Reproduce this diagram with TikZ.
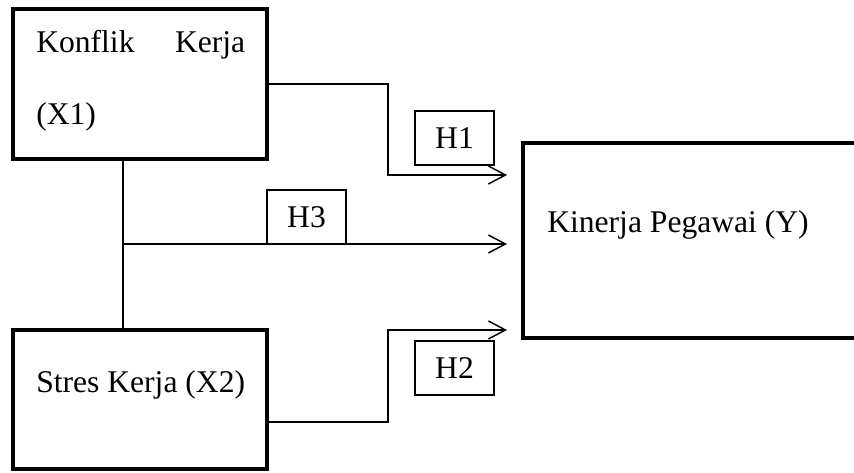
\documentclass[tikz,border=0pt]{standalone}
\usepackage{fontspec}
\setmainfont{Liberation Serif}
\usetikzlibrary{arrows.meta}
\tikzset{
	varbox/.style={draw,line width=3pt,inner sep=0,outer sep=0,anchor=north west},
	hbox/.style={draw,line width=.8pt,inner sep=0,outer sep=0,anchor=north west,
		minimum width=59.25pt,minimum height=40.5pt},
	link/.style={line width=1.1pt},
	linkarrow/.style={link,-{Straight Barb[length=12.75pt,width=13.5pt,line width=1.1pt]}}
}
\begin{document}
\begin{tikzpicture}[x=.75pt,y=-.75pt,font=\fontsize{23.7}{28}\selectfont]
	\clip (0,0) rectangle (854,473);
	
	% variable boxes
	\node[varbox,minimum width=190.5pt,minimum height=112.5pt] (x1) at (13,9) {};
	\node[varbox,minimum width=190.5pt,minimum height=104.25pt] (x2) at (13,330) {};
	\node[varbox,minimum width=262pt,minimum height=146.25pt] (y) at (523,143) {};
	
	\node[anchor=base west,inner sep=0] (x1a) at (36,53) {\makebox[156.75pt][s]{Konflik Kerja}};
	\node[anchor=base west,inner sep=0] (x1b) at (36,125) {(X1)};
	\node[anchor=base west,inner sep=0] (x2t) at (36,393) {Stres Kerja (X2)};
	\node[anchor=base west,inner sep=0] (yt) at (547,233) {Kinerja Pegawai (Y)};
	
	% hypotheses
	\foreach \n/\x/\y in {1/415/111,3/267/190,2/415/341}
		\node[hbox] (h\n) at (\x,\y) {H\n};
	
	\coordinate (t1) at (507,175);
	\coordinate (t3) at (507,244);
	\coordinate (t2) at (507,330);
	\coordinate (j) at (123,244);
	
	\draw[linkarrow] (x1.east) -| (388,175) -- (t1);
	\draw[linkarrow] (x2.east |- 0,422) -| (388,330) -- (t2);
	\draw[link] ([shift={(-17,0)}]x1.south) -- ([shift={(-17,0)}]x2.north);
	\draw[linkarrow] (j) -- (t3);
\end{tikzpicture}
\end{document}
